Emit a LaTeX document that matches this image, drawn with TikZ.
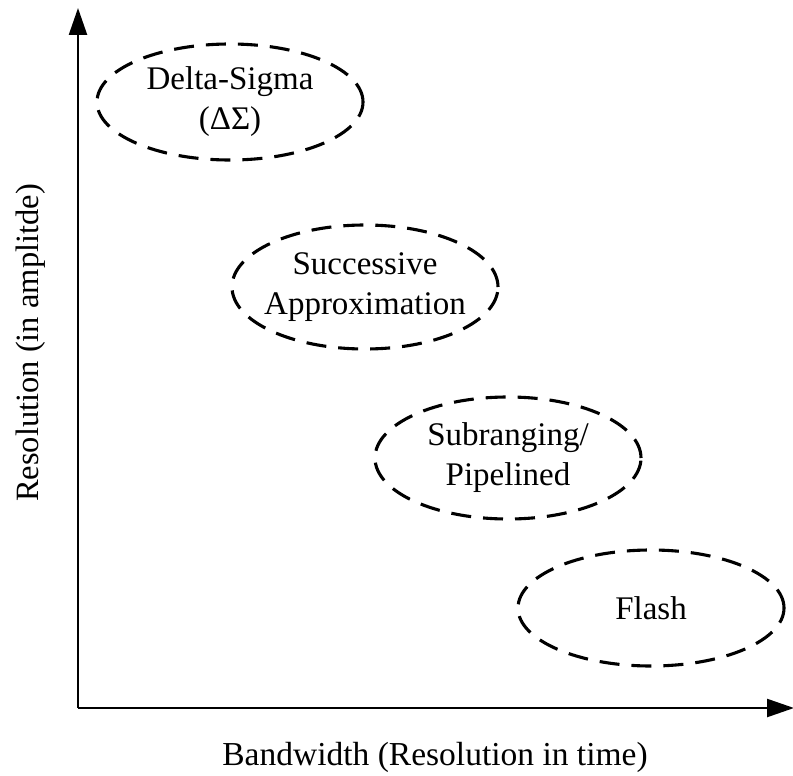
\documentclass[tikz,border=0pt]{standalone}
\usepackage{fontspec}
\setmainfont{Liberation Serif}
\usetikzlibrary{arrows.meta,shapes.geometric}
\begin{document}
\begin{tikzpicture}[x=1pt,y=-1pt,
  adc/.style={ellipse,draw,line width=3.1pt,dash pattern=on 20pt off 12pt,inner xsep=-60pt,inner ysep=-30pt,
    minimum width=266pt,minimum height=116pt,align=center,font=\fontsize{33}{40}\selectfont},
  axis/.style={line width=2.4pt,-{Triangle[length=27pt,width=18pt]}},
  lbl/.style={font=\fontsize{33.5}{40}\selectfont}]
\useasboundingbox (0,0) rectangle (793,776);
\coordinate (O) at (78,708);
\coordinate (Y) at (78,8);
\coordinate (X) at (794,708);
\draw[axis] (O) -- (Y);
\draw[axis] (O) -- (X);
\node[adc] (ds) at (230,102) {Delta-Sigma\\(ΔΣ)};
\node[adc,minimum height=124pt] (sa) at (365,287) {Successive\\Approximation};
\node[adc,minimum height=122pt] (sr) at (508,458) {Subranging/\\Pipelined};
\node[adc] (fl) at (651,608) {Flash};
\node[lbl] (xl) at (435,757) {Bandwidth (Resolution in time)};
\node[lbl,rotate=90,font=\fontsize{32.5}{40}\selectfont] (yl) at (31,343) {Resolution (in amplitde)};
\end{tikzpicture}
\end{document}
